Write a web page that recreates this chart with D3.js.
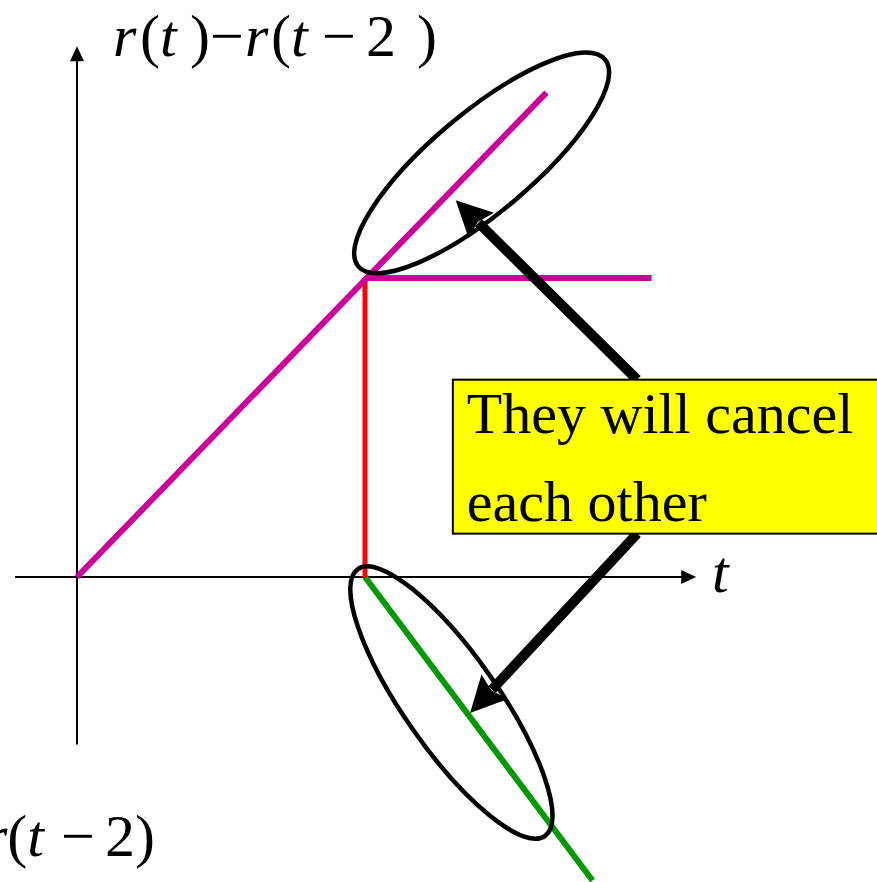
<!DOCTYPE html>
<html>
<head>
<meta charset="utf-8">
<script src="https://cdn.jsdelivr.net/npm/d3@7/dist/d3.min.js"></script>
<style>
  html, body { margin: 0; padding: 0; background: #fff; }
  svg { display: block; }
  text { font-family: "Liberation Serif", "Times New Roman", serif; }
</style>
</head>
<body>
<script>
// ---------- data (t, value) ----------
const rampT = [0, 3.26], rampY = [0, 3.24];          // r(t) (magenta ramp)
const flatT = [2, 3.99], flatY = [2, 2];             // r(t)-r(t-2) after t=2
const jumpT = [2, 2], jumpY = [0, 2];                // red vertical
const negT = [2, 3.58], negY = [0, -2.03];           // -r(t-2) (green)
const xAxisT = [-0.43, 4.3];
const yAxisY = [-1.12, 3.55];
// annotations (data coords)
const ellipseCenters = [[2.81, 2.77], [2.60, -0.84]];
const ellipseRadii = [[161, 50], [163, 47]];
const ellipseAngles = [-40, 55];
const arrowTails = [[3.89, 1.32], [3.89, 0.29]];
const arrowTips = [[2.63, 2.52], [2.73, -0.91]];
const boxT = [2.61, 5.8], boxY = [0.29, 1.32];
const boxLines = ["They will cancel", "each other"];

const W = 877, H = 882;
const svg = d3.select("body").append("svg").attr("width", W).attr("height", H);

const x = d3.scaleLinear().domain([0, 1]).range([77, 221]);
const y = d3.scaleLinear().domain([0, 1]).range([577, 427.5]);

// axes
const ax = svg.append("g");
ax.append("line").attr("x1", x(xAxisT[0])).attr("x2", x(xAxisT[1]) - 14)
  .attr("y1", y(0)).attr("y2", y(0)).attr("stroke", "#000").attr("stroke-width", 2);
ax.append("path").attr("d", `M${x(xAxisT[1])},${y(0)} l-15,-7 l0,14 Z`).attr("fill", "#000");
ax.append("line").attr("x1", x(0)).attr("x2", x(0))
  .attr("y1", y(yAxisY[0])).attr("y2", y(yAxisY[1]) + 14).attr("stroke", "#000").attr("stroke-width", 2);
ax.append("path").attr("d", `M${x(0)},${y(yAxisY[1])} l-7,15 l14,0 Z`).attr("fill", "#000");

const line = d3.line().x(d => x(d[0])).y(d => y(d[1]));
function seg(T, Y, color, w) {
  svg.append("path").attr("d", line(T.map((t, i) => [t, Y[i]])))
    .attr("fill", "none").attr("stroke", color).attr("stroke-width", w);
}
seg(negT, negY, "#009900", 6);
seg(jumpT, jumpY, "#ff0000", 5);
seg(rampT, rampY, "#cc0099", 6);
seg(flatT, flatY, "#cc0099", 6);

// ellipses
ellipseCenters.forEach((c, i) => {
  svg.append("ellipse")
    .attr("transform", `translate(${x(c[0])},${y(c[1])}) rotate(${ellipseAngles[i]})`)
    .attr("rx", ellipseRadii[i][0]).attr("ry", ellipseRadii[i][1])
    .attr("fill", "none").attr("stroke", "#000").attr("stroke-width", 4.5);
});

// arrows
arrowTails.forEach((tail, i) => {
  const x0 = x(tail[0]), y0 = y(tail[1]);
  const x1 = x(arrowTips[i][0]), y1 = y(arrowTips[i][1]);
  const dx = x1 - x0, dy = y1 - y0, L = Math.hypot(dx, dy);
  const ux = dx / L, uy = dy / L, nx = -uy, ny = ux;
  const hl = 36, hw = 18;
  const bx = x1 - ux * hl, by = y1 - uy * hl;
  svg.append("line").attr("x1", x0).attr("y1", y0).attr("x2", bx + ux * 4).attr("y2", by + uy * 4)
    .attr("stroke", "#000").attr("stroke-width", 10);
  svg.append("path")
    .attr("d", `M${x1},${y1} L${bx + nx * hw},${by + ny * hw} L${bx + ux * 5},${by + uy * 5} L${bx - nx * hw},${by - ny * hw} Z`)
    .attr("fill", "#000");
});

// yellow box
svg.append("rect").attr("x", x(boxT[0])).attr("y", y(boxY[1]))
  .attr("width", x(boxT[1]) - x(boxT[0])).attr("height", y(boxY[0]) - y(boxY[1]))
  .attr("fill", "#ffff00").attr("stroke", "#000").attr("stroke-width", 2);
boxLines.forEach((s, i) => {
  svg.append("text").attr("x", x(boxT[0]) + 14).attr("y", y(boxY[1]) + 53 + i * 88)
    .attr("font-size", 58).attr("fill", "#000").text(s);
});

// formula text helper: glyph groups laid out left to right, never overlapping
function formula(yBase, parts) {
  const t = svg.append("text").attr("y", yBase).attr("font-size", 60).attr("fill", "#000");
  let prevEnd = -Infinity;
  parts.forEach(p => {
    const sp = t.append("tspan").attr("font-style", p[2] ? "italic" : "normal").text(p[0]);
    const px = Math.max(p[1], prevEnd);
    sp.attr("x", px);
    prevEnd = px + sp.node().getComputedTextLength();
  });
}
formula(56, [["r", 113, true], ["(", 140, false], ["t", 157, true], [")", 190, false], ["\u2212", 210, false],
  ["r", 245, true], ["(", 271, false], ["t", 289, true], ["\u2212", 322, false], ["2", 366, false], [")", 417, false]]);

// t label
svg.append("text").attr("x", 712).attr("y", 592).attr("font-size", 60).attr("font-style", "italic").text("t");

// bottom-left label -r(t-2) (cut off at the left edge as in the original)
formula(856, [["r", -16, true], ["(", 7, false], ["t", 26, true], ["\u2212", 61, false], ["2", 105, false], [")", 135, false]]);
</script>
</body>
</html>
